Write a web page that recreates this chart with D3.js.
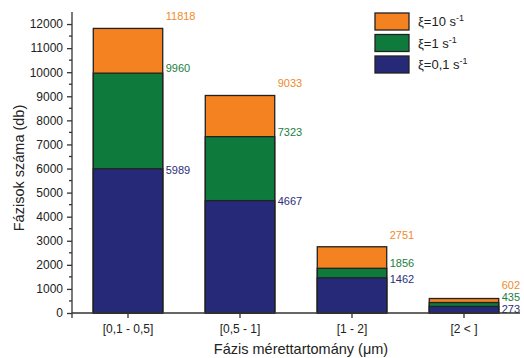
<!DOCTYPE html>
<html><head><meta charset="utf-8">
<script src="https://cdn.jsdelivr.net/npm/d3@7"></script>
<style>body{margin:0;background:#fff}svg{display:block;font-family:Arial,"Liberation Sans",sans-serif}</style>
</head><body><svg id="c" width="524" height="358"></svg>
<script>
const categories = ["[0,1 - 0,5]", "[0,5 - 1]", "[1 - 2]", "[2 < ]"];
const seriesNames = ["ξ=10 s", "ξ=1 s", "ξ=0,1 s"];
const xi10 = [11818, 9033, 2751, 602];
const xi1 = [9960, 7323, 1856, 435];
const xi01 = [5989, 4667, 1462, 273];
const yTicks = [0,1000,2000,3000,4000,5000,6000,7000,8000,9000,10000,11000,12000];

const fills = ["#F58220", "#0E7B3D", "#262878"];
const textCols = ["#F08A2A", "#1A8040", "#2B2E7A"];
const series = [xi10, xi1, xi01];
const labelDy = [-12, -5, 1];

const svg = d3.select("#c");
const x = d3.scaleBand().domain(categories).range([72, 520]).paddingInner(0.38).paddingOuter(0.19);
const y = d3.scaleLinear().domain([0, 12500]).range([313, 12]);

// bars (overlapping, tallest first)
series.forEach((vals, si) => {
  svg.append("g").selectAll("rect").data(vals).join("rect")
    .attr("x", (d,i) => x(categories[i]))
    .attr("y", d => y(d))
    .attr("width", x.bandwidth())
    .attr("height", d => y(0) - y(d))
    .attr("fill", fills[si])
    .attr("stroke", "#222").attr("stroke-width", 1.3);
});
// value labels; the last (small) column is spread so labels stay readable
const lastPos = [285, 297, 309];
series.forEach((vals, si) => {
  svg.append("g").selectAll("text").data(vals).join("text")
    .attr("x", (d,i) => x(categories[i]) + x.bandwidth() + 3)
    .attr("y", (d,i) => i === vals.length - 1 ? lastPos[si] : y(d) + labelDy[si])
    .attr("dy", "0.35em")
    .attr("font-size", 11).attr("fill", textCols[si])
    .text(d => d);
});

// y axis
const yAxis = d3.axisLeft(y).tickValues(yTicks).tickSize(5).tickPadding(4).tickFormat(d3.format("d"));
const yg = svg.append("g").attr("transform", "translate(72,0)").call(yAxis);
yg.selectAll("text").attr("font-size", 12).attr("fill", "#222");
const minor = d3.range(500, 12500, 1000);
yg.selectAll(".minor").data(minor).join("line").attr("class","minor")
  .attr("x1", -3).attr("x2", 0).attr("y1", d => y(d)).attr("y2", d => y(d)).attr("stroke", "#333").attr("stroke-width", 1.3);
yg.select(".domain").attr("d", `M0,${y(12500)}V${y(0)}`);

// x axis
const xAxis = d3.axisBottom(x).tickSize(5).tickPadding(6);
const xg = svg.append("g").attr("transform", `translate(0,${y(0)})`).call(xAxis);
xg.selectAll("text").attr("font-size", 12).attr("fill", "#222");
xg.select(".domain").attr("d", "M72,0H520");
xg.append("line").attr("x1",72).attr("x2",72).attr("y1",0).attr("y2",5).attr("stroke","#333").attr("stroke-width",1.3);

svg.selectAll(".domain, .tick line").attr("stroke", "#333").attr("stroke-width", 1.3);

// axis titles
svg.append("text").attr("transform", "translate(24,168) rotate(-90)").attr("text-anchor","middle")
  .attr("font-size", 14.5).attr("fill", "#222").text("Fázisok száma (db)");
svg.append("text").attr("x", 301).attr("y", 354).attr("text-anchor","middle")
  .attr("font-size", 14.5).attr("fill", "#222").text("Fázis mérettartomány (μm)");

// legend
const lg = svg.append("g").attr("transform", "translate(375,13)");
seriesNames.forEach((n, i) => {
  const g = lg.append("g").attr("transform", `translate(0,${i*21.5})`);
  g.append("rect").attr("width", 34).attr("height", 17).attr("fill", fills[i]).attr("stroke", "#222").attr("stroke-width", 1.3);
  const t = g.append("text").attr("x", 43).attr("y", 13).attr("font-size", 13).attr("fill", "#222");
  t.append("tspan").text(n);
  t.append("tspan").attr("dy", -5).attr("font-size", 9).text("-1");
});
</script></body></html>
